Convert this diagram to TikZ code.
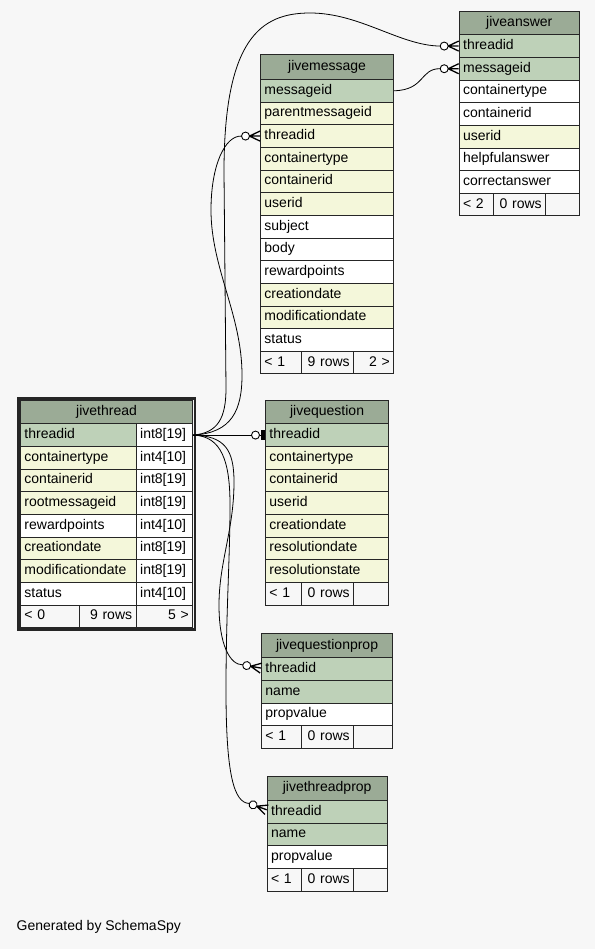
\documentclass[tikz,border=0pt]{standalone}
\usepackage{fontspec}
\setmainfont{Liberation Sans}
\usepackage{xcolor}
\usepackage{tikz}
\usetikzlibrary{positioning}

\definecolor{canvas}{HTML}{F7F7F7}
\definecolor{headrow}{HTML}{9BAB96}
\definecolor{keyrow}{HTML}{BED1B8}
\definecolor{idxrow}{HTML}{F4F7DA}

\begin{document}
\begin{tikzpicture}[
    x=1pt, y=-1pt,
    font=\fontsize{14}{16}\selectfont,
    cell/.style={rectangle, draw=black!85, line width=0.9pt, anchor=north west, inner xsep=4pt, inner ysep=0pt, minimum height=22.65pt, text height=10pt, text depth=3pt, align=left},
    head/.style={cell, fill=headrow, align=center},
    foot/.style={cell, fill=canvas},
    frame/.style={draw=black!85, line width=2.6pt},
    link/.style={line width=0.8pt},
    crowfoot/.pic={
        \draw[line width=0.9pt, fill=white] (-14.5,0) circle[radius=4];
        \draw[line width=1.3pt] (-10.5,0) -- (0,0) (-10.5,0) -- (0,-5) (-10.5,0) -- (0,5);
        \coordinate (-end) at (-18.5,0);
    },
    teefoot/.pic={
        \draw[line width=0.9pt] (-5.5,0) -- (-3.5,0);
        \draw[line width=0.9pt, fill=white] (-9.5,0) circle[radius=4];
        \fill (-3.8,-5) rectangle (0,5);
        \coordinate (-end) at (-13.5,0);
    },
]
% Canvas
\fill[canvas] (0,0) rectangle (595,949);
\useasboundingbox (0,0) rectangle (595,949);

% jivethread
\node[head, text width=164.3pt, minimum height=23.3pt] (jivethread) at (20,400) {jivethread};
\foreach \col/\typ/\clr [count=\i from 0] in {threadid/int8[19]/keyrow, containertype/int4[10]/idxrow, containerid/int8[19]/idxrow, rootmessageid/int8[19]/idxrow, rewardpoints/int4[10]/white, creationdate/int8[19]/idxrow, modificationdate/int8[19]/idxrow, status/int4[10]/white} {
    \node[cell, fill=\clr, text width=107.7pt] (jivethread-\col) at (20,423.3+22.65*\i) {\col};
    \node[cell, fill=white, text width=48.6pt] (jivethread-\col-type) at (135.7,423.3+22.65*\i) {\typ};
}
\node[foot, text width=51pt] (jivethread-prev) at (20,604.5) {< 0};
\node[foot, text width=48.7pt, align=right] (jivethread-rows) at (79,604.5) {9 rows};
\node[foot, text width=48.6pt, align=right] (jivethread-next) at (135.7,604.5) {5 >};
\draw[frame] ([shift={(-1.7,-1.7)}]jivethread.north west) rectangle ([shift={(1.7,1.7)}]jivethread-next.south east);

% jivemessage
\node[head, text width=125.3pt, minimum height=24.7pt] (jivemessage) at (260,54.3) {jivemessage};
\foreach \col/\clr [count=\i from 0] in {messageid/keyrow, parentmessageid/idxrow, threadid/idxrow, containertype/idxrow, containerid/idxrow, userid/idxrow, subject/white, body/white, rewardpoints/white, creationdate/idxrow, modificationdate/idxrow, status/white}
    \node[cell, fill=\clr, text width=125.3pt] (jivemessage-\col) at (260,79+22.65*\i) {\col};
\node[foot, text width=33pt] (jivemessage-prev) at (260,350.8) {< 1};
\node[foot, text width=44.3pt, align=right] (jivemessage-rows) at (301,350.8) {9 rows};
\node[foot, text width=32pt, align=right] (jivemessage-next) at (353.3,350.8) {2 >};

% jiveanswer
\node[head, text width=112.3pt, minimum height=23.6pt] (jiveanswer) at (458.7,10.7) {jiveanswer};
\foreach \col/\clr [count=\i from 0] in {threadid/keyrow, messageid/keyrow, containertype/white, containerid/white, userid/idxrow, helpfulanswer/white, correctanswer/white}
    \node[cell, fill=\clr, text width=112.3pt] (jiveanswer-\col) at (458.7,34.3+22.65*\i) {\col};
\node[foot, text width=26pt] (jiveanswer-prev) at (458.7,192.85) {< 2};
\node[foot, text width=44.6pt, align=right] (jiveanswer-rows) at (492.7,192.85) {0 rows};
\node[foot, text width=25.7pt, align=right] (jiveanswer-next) at (545.3,192.85) {};

% jivequestion
\node[head, text width=115.3pt, minimum height=23.3pt] (jivequestion) at (265,400) {jivequestion};
\foreach \col/\clr [count=\i from 0] in {threadid/keyrow, containertype/idxrow, containerid/idxrow, userid/idxrow, creationdate/idxrow, resolutiondate/idxrow, resolutionstate/idxrow}
    \node[cell, fill=\clr, text width=115.3pt] (jivequestion-\col) at (265,423.3+22.65*\i) {\col};
\node[foot, text width=28pt] (jivequestion-prev) at (265,581.85) {< 1};
\node[foot, text width=44.3pt, align=right] (jivequestion-rows) at (301,581.85) {0 rows};
\node[foot, text width=27pt, align=right] (jivequestion-next) at (353.3,581.85) {};

% jivequestionprop
\node[head, text width=123.3pt, minimum height=24pt] (jivequestionprop) at (261,633.3) {jivequestionprop};
\foreach \col/\clr [count=\i from 0] in {threadid/keyrow, name/keyrow, propvalue/white}
    \node[cell, fill=\clr, text width=123.3pt] (jivequestionprop-\col) at (261,657.3+22.65*\i) {\col};
\node[foot, text width=32pt] (jivequestionprop-prev) at (261,725.25) {< 1};
\node[foot, text width=44.3pt, align=right] (jivequestionprop-rows) at (301,725.25) {0 rows};
\node[foot, text width=31pt, align=right] (jivequestionprop-next) at (353.3,725.25) {};

% jivethreadprop
\node[head, text width=112pt, minimum height=24.3pt] (jivethreadprop) at (266.7,775.7) {jivethreadprop};
\foreach \col/\clr [count=\i from 0] in {threadid/keyrow, name/keyrow, propvalue/white}
    \node[cell, fill=\clr, text width=112pt] (jivethreadprop-\col) at (266.7,800+22.65*\i) {\col};
\node[foot, text width=26.3pt] (jivethreadprop-prev) at (266.7,867.95) {< 1};
\node[foot, text width=44.3pt, align=right] (jivethreadprop-rows) at (301,867.95) {0 rows};
\node[foot, text width=25.4pt, align=right] (jivethreadprop-next) at (353.3,867.95) {};

% Relationship ends
\pic (afoot) at (jiveanswer-threadid.west) {crowfoot};
\pic (amfoot) at (jiveanswer-messageid.west) {crowfoot};
\pic (mfoot) at (jivemessage-threadid.west) {crowfoot};
\pic (qfoot) at (jivequestion-threadid.west) {teefoot};
\pic[rotate=-10] (qpfoot) at ([yshift=1pt]jivequestionprop-threadid.west) {crowfoot};
\pic[rotate=-20] (tpfoot) at ([yshift=2pt]jivethreadprop-threadid.west) {crowfoot};

% Links from jivethread.threadid
\draw[link] (jivethread-threadid-type.east) .. controls (218,433) and (226,418) .. (226,388) -- (224,172) .. controls (224,40) and (260,13) .. (310,13) .. controls (360,13) and (400,45.6) .. (afoot-end);
\draw[link] (jivethread-threadid-type.east) .. controls (232,433) and (242,410) .. (242,375) .. controls (242,315) and (211,268) .. (211,210) .. controls (211,165) and (225,135.5) .. (mfoot-end);
\draw[link] (jivethread-threadid-type.east) -- (qfoot-end);
\draw[link] (jivethread-threadid-type.east) .. controls (225,436) and (234,450) .. (234,482) .. controls (234,530) and (219,562) .. (219,605) .. controls (219,645) and (230,665) .. (qpfoot-end);
\draw[link] (jivethread-threadid-type.east) .. controls (222,436) and (230,462) .. (230,505) .. controls (230,560) and (226,610) .. (226,690) .. controls (226,775) and (234,803) .. (tpfoot-end);

% Link from jivemessage.messageid
\draw[link] (jivemessage-messageid.east) .. controls (425,90) and (420,68.3) .. (amfoot-end);

% Credit
\node[anchor=west, inner sep=0pt] (credit) at (16.5,927) {Generated by SchemaSpy};
\end{tikzpicture}
\end{document}
